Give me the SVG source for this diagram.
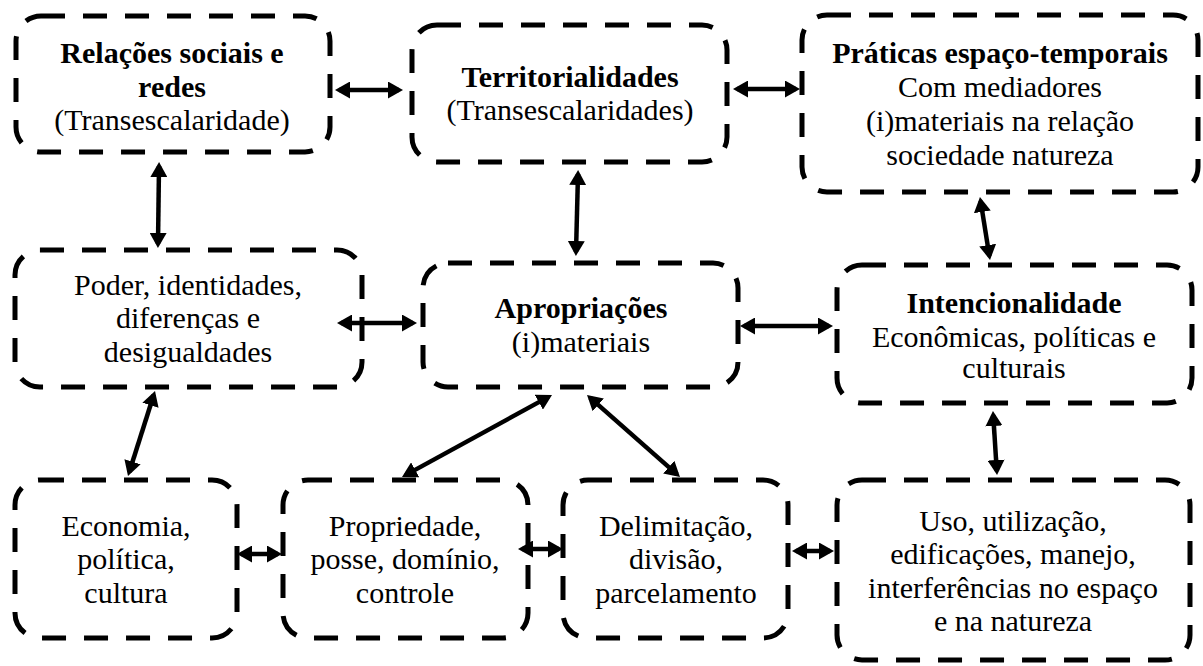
<svg xmlns="http://www.w3.org/2000/svg" width="1203" height="666" viewBox="0 0 1203 666">
<style>
.box{fill:none;stroke:#000;stroke-width:5;stroke-dasharray:24 18}
text{font-family:"Liberation Serif","Times New Roman",serif;font-size:30px;fill:#000;text-anchor:middle}
.b{font-weight:bold}
.arr{stroke:#000;stroke-width:4.5;fill:none;marker-start:url(#ah);marker-end:url(#ah)}
</style>
<defs>
<marker id="ah" viewBox="0 0 15 17" refX="11" refY="8.5" markerWidth="15" markerHeight="17" markerUnits="userSpaceOnUse" orient="auto-start-reverse">
<path d="M0,0 L15,8.5 L0,17 z" fill="#000"/>
</marker>
</defs>
<rect width="1203" height="666" fill="#fff"/>
<g id="n1"><rect class="box" x="16" y="16" width="314" height="136" rx="25"/>
<text x="172" y="63" class="b">Relações sociais e</text><text x="172" y="97" class="b">redes</text><text x="172" y="130">(Transescalaridade)</text></g>
<g id="n2"><rect class="box" x="412" y="25" width="315" height="137" rx="25"/>
<text x="570" y="87" class="b">Territorialidades</text><text x="570" y="120">(Transescalaridades)</text></g>
<g id="n3"><rect class="box" x="802" y="15" width="396" height="177" rx="25"/>
<text x="1000" y="63" class="b">Práticas espaço-temporais</text><text x="1000" y="97">Com mediadores</text><text x="1000" y="131">(i)materiais na relação</text><text x="1000" y="165">sociedade natureza</text></g>
<g id="n4"><rect class="box" x="15" y="250" width="347" height="137" rx="25"/>
<text x="188" y="295">Poder, identidades,</text><text x="188" y="328">diferenças e</text><text x="188" y="362">desigualdades</text></g>
<g id="n5"><rect class="box" x="423" y="263" width="315" height="124" rx="25"/>
<text x="581" y="318" class="b">Apropriações</text><text x="581" y="352">(i)materiais</text></g>
<g id="n6"><rect class="box" x="837" y="265" width="355" height="138" rx="25"/>
<text x="1014" y="313" class="b">Intencionalidade</text><text x="1014" y="347">Econômicas, políticas e</text><text x="1014" y="378">culturais</text></g>
<g id="n7"><rect class="box" x="15" y="480" width="222" height="158" rx="25"/>
<text x="126" y="536">Economia,</text><text x="126" y="569">política,</text><text x="126" y="603">cultura</text></g>
<g id="n8"><rect class="box" x="283" y="480" width="245" height="158" rx="25"/>
<text x="405" y="536">Propriedade,</text><text x="405" y="569">posse, domínio,</text><text x="405" y="603">controle</text></g>
<g id="n9"><rect class="box" x="563" y="480" width="225" height="158" rx="25"/>
<text x="676" y="536">Delimitação,</text><text x="676" y="569">divisão,</text><text x="676" y="603">parcelamento</text></g>
<g id="n10"><rect class="box" x="837" y="480" width="353" height="180" rx="25"/>
<text x="1013" y="531">Uso, utilização,</text><text x="1013" y="564">edificações, manejo,</text><text x="1013" y="598">interferências no espaço</text><text x="1013" y="631">e na natureza</text></g>
<g id="connectors">
<line class="arr" x1="339" y1="90" x2="399" y2="90"/>
<line class="arr" x1="737" y1="89" x2="796" y2="89"/>
<line class="arr" x1="159" y1="166" x2="158" y2="244"/>
<line class="arr" x1="578" y1="174" x2="576" y2="252"/>
<line class="arr" x1="980.6" y1="201" x2="989.4" y2="256"/>
<line class="arr" x1="341" y1="323" x2="413" y2="323"/>
<line class="arr" x1="744" y1="326" x2="829" y2="326"/>
<line class="arr" x1="153.8" y1="394.8" x2="129.2" y2="472.2"/>
<line class="arr" x1="548.5" y1="396.9" x2="405.5" y2="475.1"/>
<line class="arr" x1="590" y1="397.6" x2="677" y2="474.4"/>
<line class="arr" x1="993.2" y1="415" x2="996.8" y2="471"/>
<line class="arr" x1="241" y1="554" x2="278" y2="554"/>
<line class="arr" x1="522" y1="549" x2="559" y2="549"/>
<line class="arr" x1="796" y1="551" x2="830" y2="551"/>
</g>
</svg>
